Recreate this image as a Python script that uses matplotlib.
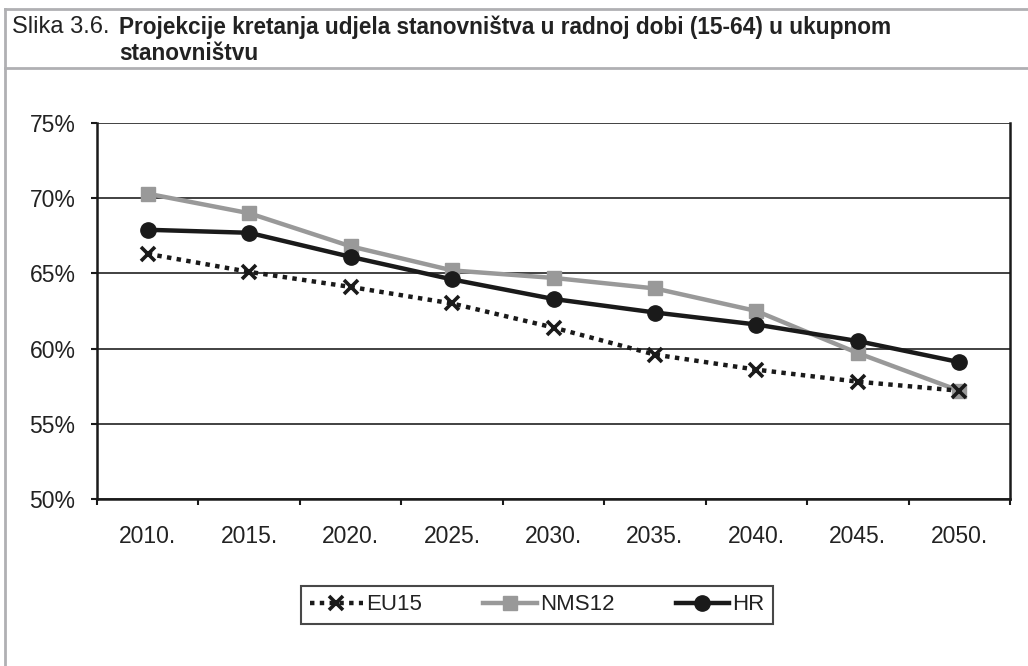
import numpy as np
import matplotlib
matplotlib.use('Agg')
import matplotlib.pyplot as plt
from matplotlib.lines import Line2D
from matplotlib.ticker import PercentFormatter, FixedLocator

years = ['2010.', '2015.', '2020.', '2025.', '2030.', '2035.', '2040.', '2045.', '2050.']
eu15 = [66.3, 65.1, 64.1, 63.0, 61.4, 59.6, 58.6, 57.8, 57.2]
nms12 = [70.3, 69.0, 66.8, 65.2, 64.7, 64.0, 62.5, 59.7, 57.2]
hr = [67.9, 67.7, 66.1, 64.6, 63.3, 62.4, 61.6, 60.5, 59.1]

plt.rcParams['font.family'] = ['Liberation Sans', 'DejaVu Sans']

W, H = 1028, 666
fig = plt.figure(figsize=(W / 100, H / 100), dpi=100)


def px(x, y):
    return x / W, 1 - y / H


# frame around the figure
gray = '#b0b0b3'
for (x0, y0), (x1, y1) in [((5, 9), (W, 9)), ((5, 68), (W, 68)), ((5, 9), (5, H))]:
    a, b = px(x0, y0)
    c, d = px(x1, y1)
    fig.add_artist(Line2D([a, c], [b, d], color=gray, lw=2.0, transform=fig.transFigure))

title_font = ['Liberation Sans Narrow', 'Liberation Sans']
fig.text(*px(12, 27), 'Slika 3.6.', fontsize=17, va='center', ha='left', color='#222222',
         family=title_font)
fig.text(*px(119, 27), 'Projekcije kretanja udjela stanovništva u radnoj dobi (15-64) u ukupnom',
         fontsize=16.3, fontweight='bold', va='center', ha='left', color='#222222',
         family=title_font)
fig.text(*px(119, 54), 'stanovništvu', fontsize=16.3, fontweight='bold', va='center', ha='left',
         color='#222222', family=title_font)

l, t = px(97, 123)
r, b = px(1010, 499)
ax = fig.add_axes([l, b, r - l, t - b])

x = np.arange(len(years))
ax.plot(x, nms12, color='#999999', lw=3.2, marker='s', ms=10, label='NMS12', zorder=3)
ax.plot(x, hr, color='#1a1a1a', lw=3.2, marker='o', ms=11, label='HR', zorder=4)
ax.plot(x, eu15, color='#1a1a1a', lw=3.2, ls=(0, (1, 1.2)), marker='x', ms=10, mew=2.6,
        label='EU15', zorder=5)

ax.set_xlim(-0.5, len(years) - 0.5)
ax.set_ylim(50, 75)
ax.set_yticks([50, 55, 60, 65, 70, 75])
ax.yaxis.set_major_formatter(PercentFormatter(decimals=0))
ax.grid(axis='y', color='#333333', lw=1.3)
ax.set_axisbelow(True)

ax.set_xticks(x)
ax.set_xticklabels(years)
ax.xaxis.set_minor_locator(FixedLocator(np.arange(-0.5, len(years), 1.0)))
ax.tick_params(axis='x', which='major', length=0, pad=19, labelsize=16.5, labelcolor='#222222')
ax.tick_params(axis='x', which='minor', length=4.5, width=1.5, color='#1a1a1a')
ax.tick_params(axis='y', length=4.5, width=1.5, color='#1a1a1a', pad=11, labelsize=16.5,
               labelcolor='#222222')

for s in ['left', 'bottom', 'right']:
    ax.spines[s].set_color('#1a1a1a')
    ax.spines[s].set_linewidth(1.8)
ax.spines['top'].set_visible(False)

handles, labels = ax.get_legend_handles_labels()
order = [2, 0, 1]
leg = fig.legend([handles[i] for i in order], [labels[i] for i in order],
                 loc='center', bbox_to_anchor=px(537, 605), ncol=3, frameon=True,
                 fontsize=16, handlelength=2.4, handletextpad=0.15, columnspacing=2.75,
                 borderpad=0.4, fancybox=False, edgecolor='#1a1a1a')
leg.get_frame().set_linewidth(1.5)
for txt in leg.get_texts():
    txt.set_color('#222222')

fig.savefig('out.png', dpi=100)
